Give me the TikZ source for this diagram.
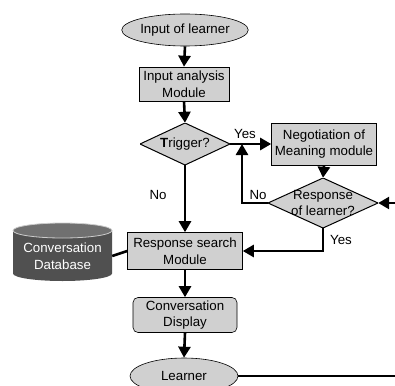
\documentclass[tikz,border=0pt]{standalone}
\usepackage{fontspec}
\setmainfont{Liberation Sans}
\usetikzlibrary{shapes.geometric,arrows.meta}
\definecolor{boxgray}{RGB}{208,208,208}
\definecolor{dbbody}{RGB}{80,80,80}
\definecolor{dbtop}{RGB}{112,112,112}
\tikzset{
  every node/.style={font=\fontsize{13.3}{16.5}\selectfont, align=center, inner sep=0pt},
  oval/.style={ellipse, draw, fill=boxgray, line width=0.6pt},
  rectbox/.style={rectangle, draw, fill=boxgray, line width=0.6pt},
  roundbox/.style={rectangle, rounded corners=5pt, draw, fill=boxgray, line width=0.6pt},
  dia/.style={rectangle, path picture={
      \fill[boxgray] (path picture bounding box.north) -- (path picture bounding box.east) -- (path picture bounding box.south) -- (path picture bounding box.west) -- cycle;
      \draw[line width=1pt] (path picture bounding box.north) -- (path picture bounding box.east) -- (path picture bounding box.south) -- (path picture bounding box.west) -- cycle;}},
  arr/.style={line width=2.6pt, -{Triangle[length=11pt,width=12pt]}},
  plain/.style={line width=2.6pt},
  lbl/.style={font=\fontsize{13.3}{15}\selectfont}
}
\begin{document}
\begin{tikzpicture}[x=1pt,y=-1pt]
\useasboundingbox (0,0) rectangle (395,385);
% database cylinder
\fill[dbbody] (13,230.5) -- (13,273.5) arc[start angle=180,end angle=0,x radius=49.5,y radius=7.5] -- (112,230.5) -- cycle;
\draw[fill=dbtop, draw=gray!40, line width=0.8pt] (62.5,230.5) ellipse[x radius=49.5, y radius=7.5];
\node[text=white, minimum width=99, minimum height=40] (db) at (62.5,256) {Conversation\\Database};

\node[oval, minimum width=106, minimum height=32] (inp) at (185,30) {Input of learner};
\node[rectbox, minimum width=90, minimum height=34] (ana) at (184,84) {Input analysis\\Module};
\node[dia, minimum width=90, minimum height=42] (trig) at (185,144) {\textbf{T}rigger?};
\node[rectbox, minimum width=105, minimum height=42] (neg) at (324,144) {Negotiation of\\Meaning module};
\node[dia, minimum width=110, minimum height=50] (resp) at (323,203) {Response\\of learner?};
\node[rectbox, minimum width=115, minimum height=37] (search) at (185,251) {Response search\\Module};
\node[roundbox, minimum width=104, minimum height=35] (disp) at (185,315) {Conversation\\Display};
\node[oval, minimum width=108, minimum height=36] (lea) at (184,376) {Learner};

\coordinate (j) at (242,144);
\coordinate (edgeA) at (395,203);
\coordinate (edgeB) at (395,376);

\draw[arr] (inp.south) -- (ana.north);
\draw[arr] (ana.south) -- (trig.north);
\draw[arr] (trig.east) -- (neg.west);
\node[lbl] (yes1) at (245,134) {Yes};
\draw[arr] (neg.south) -- (resp.north);
\draw[arr] (resp.west) -| (j);
\node[lbl] (no2) at (258,195) {No};
\draw[arr] (resp.south) |- (search.east);
\node[lbl] (yes2) at (341,240) {Yes};
\draw[arr] (trig.south) -- (search.north);
\node[lbl] (no1) at (158,195) {No};
\draw[plain] (db.east) -- (search.west);
\draw[arr] (search.south) -- (disp.north);
\draw[arr] (disp.south) -- (lea.north);
\draw[plain] (lea.east) -- (edgeB);
\draw[arr] (edgeA) -- (resp.east);
\end{tikzpicture}
\end{document}
